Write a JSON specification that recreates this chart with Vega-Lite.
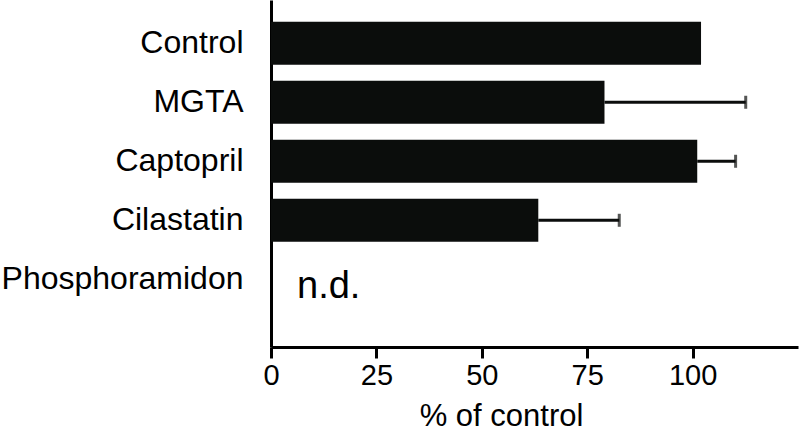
{
  "$schema": "https://vega.github.io/schema/vega-lite/v6.json",
  "width": 527,
  "height": 347,
  "autosize": {"type": "none"},
  "padding": {"left": 271, "top": 0, "right": 2, "bottom": 85},
  "config": {
    "view": {"stroke": null},
    "font": "Liberation Sans"
  },
  "data": {
    "values": [
      {"treatment": "Control", "value": 102, "upper": null, "note": ""},
      {"treatment": "MGTA", "value": 79.1, "upper": 112.6, "note": ""},
      {"treatment": "Captopril", "value": 101.1, "upper": 110.2, "note": ""},
      {"treatment": "Cilastatin", "value": 63.4, "upper": 82.6, "note": ""},
      {"treatment": "Phosphoramidon", "value": null, "upper": null, "note": "n.d."}
    ]
  },
  "encoding": {
    "y": {
      "field": "treatment",
      "type": "nominal",
      "sort": ["Control", "MGTA", "Captopril", "Cilastatin", "Phosphoramidon"],
      "scale": {"paddingInner": 0.27, "paddingOuter": 0.5755, "align": 0.32},
      "axis": {
        "title": null,
        "ticks": false,
        "domainWidth": 3,
        "domainColor": "#000000",
        "labelFontSize": 32,
        "labelColor": "#000000",
        "labelPadding": 28,
        "labelLimit": 400,
        "labelFont": "Liberation Sans"
      }
    }
  },
  "layer": [
    {
      "mark": {"type": "bar", "color": "#0b0d0c"},
      "encoding": {
        "x": {
          "field": "value",
          "type": "quantitative",
          "scale": {"domain": [0, 125], "nice": false},
          "axis": {
            "values": [0, 25, 50, 75, 100],
            "grid": false,
            "domainWidth": 3,
            "domainColor": "#000000",
            "tickWidth": 3,
            "tickSize": 11,
            "tickColor": "#000000",
            "labelFontSize": 29,
            "labelColor": "#000000",
            "labelPadding": 3,
            "labelFlush": false,
            "labelFont": "Liberation Sans",
            "title": "% of control",
            "titleFontSize": 31,
            "titleFontWeight": "normal",
            "titleColor": "#000000",
            "titleFont": "Liberation Sans",
            "titleAlign": "center",
            "titleBaseline": "alphabetic",
            "titleX": 230,
            "titleY": 78
          }
        }
      }
    },
    {
      "mark": {"type": "rule", "color": "#0b0d0c", "strokeWidth": 3},
      "encoding": {
        "x": {"field": "value", "type": "quantitative"},
        "x2": {"field": "upper"}
      }
    },
    {
      "mark": {"type": "tick", "color": "#0b0d0c", "thickness": 3, "size": 13},
      "encoding": {
        "x": {"field": "upper", "type": "quantitative"}
      }
    },
    {
      "mark": {"type": "text", "align": "left", "baseline": "alphabetic", "dx": 26, "dy": 19, "fontSize": 38, "color": "#000000", "font": "Liberation Sans"},
      "encoding": {
        "x": {"datum": 0},
        "text": {"field": "note"}
      }
    }
  ]
}
